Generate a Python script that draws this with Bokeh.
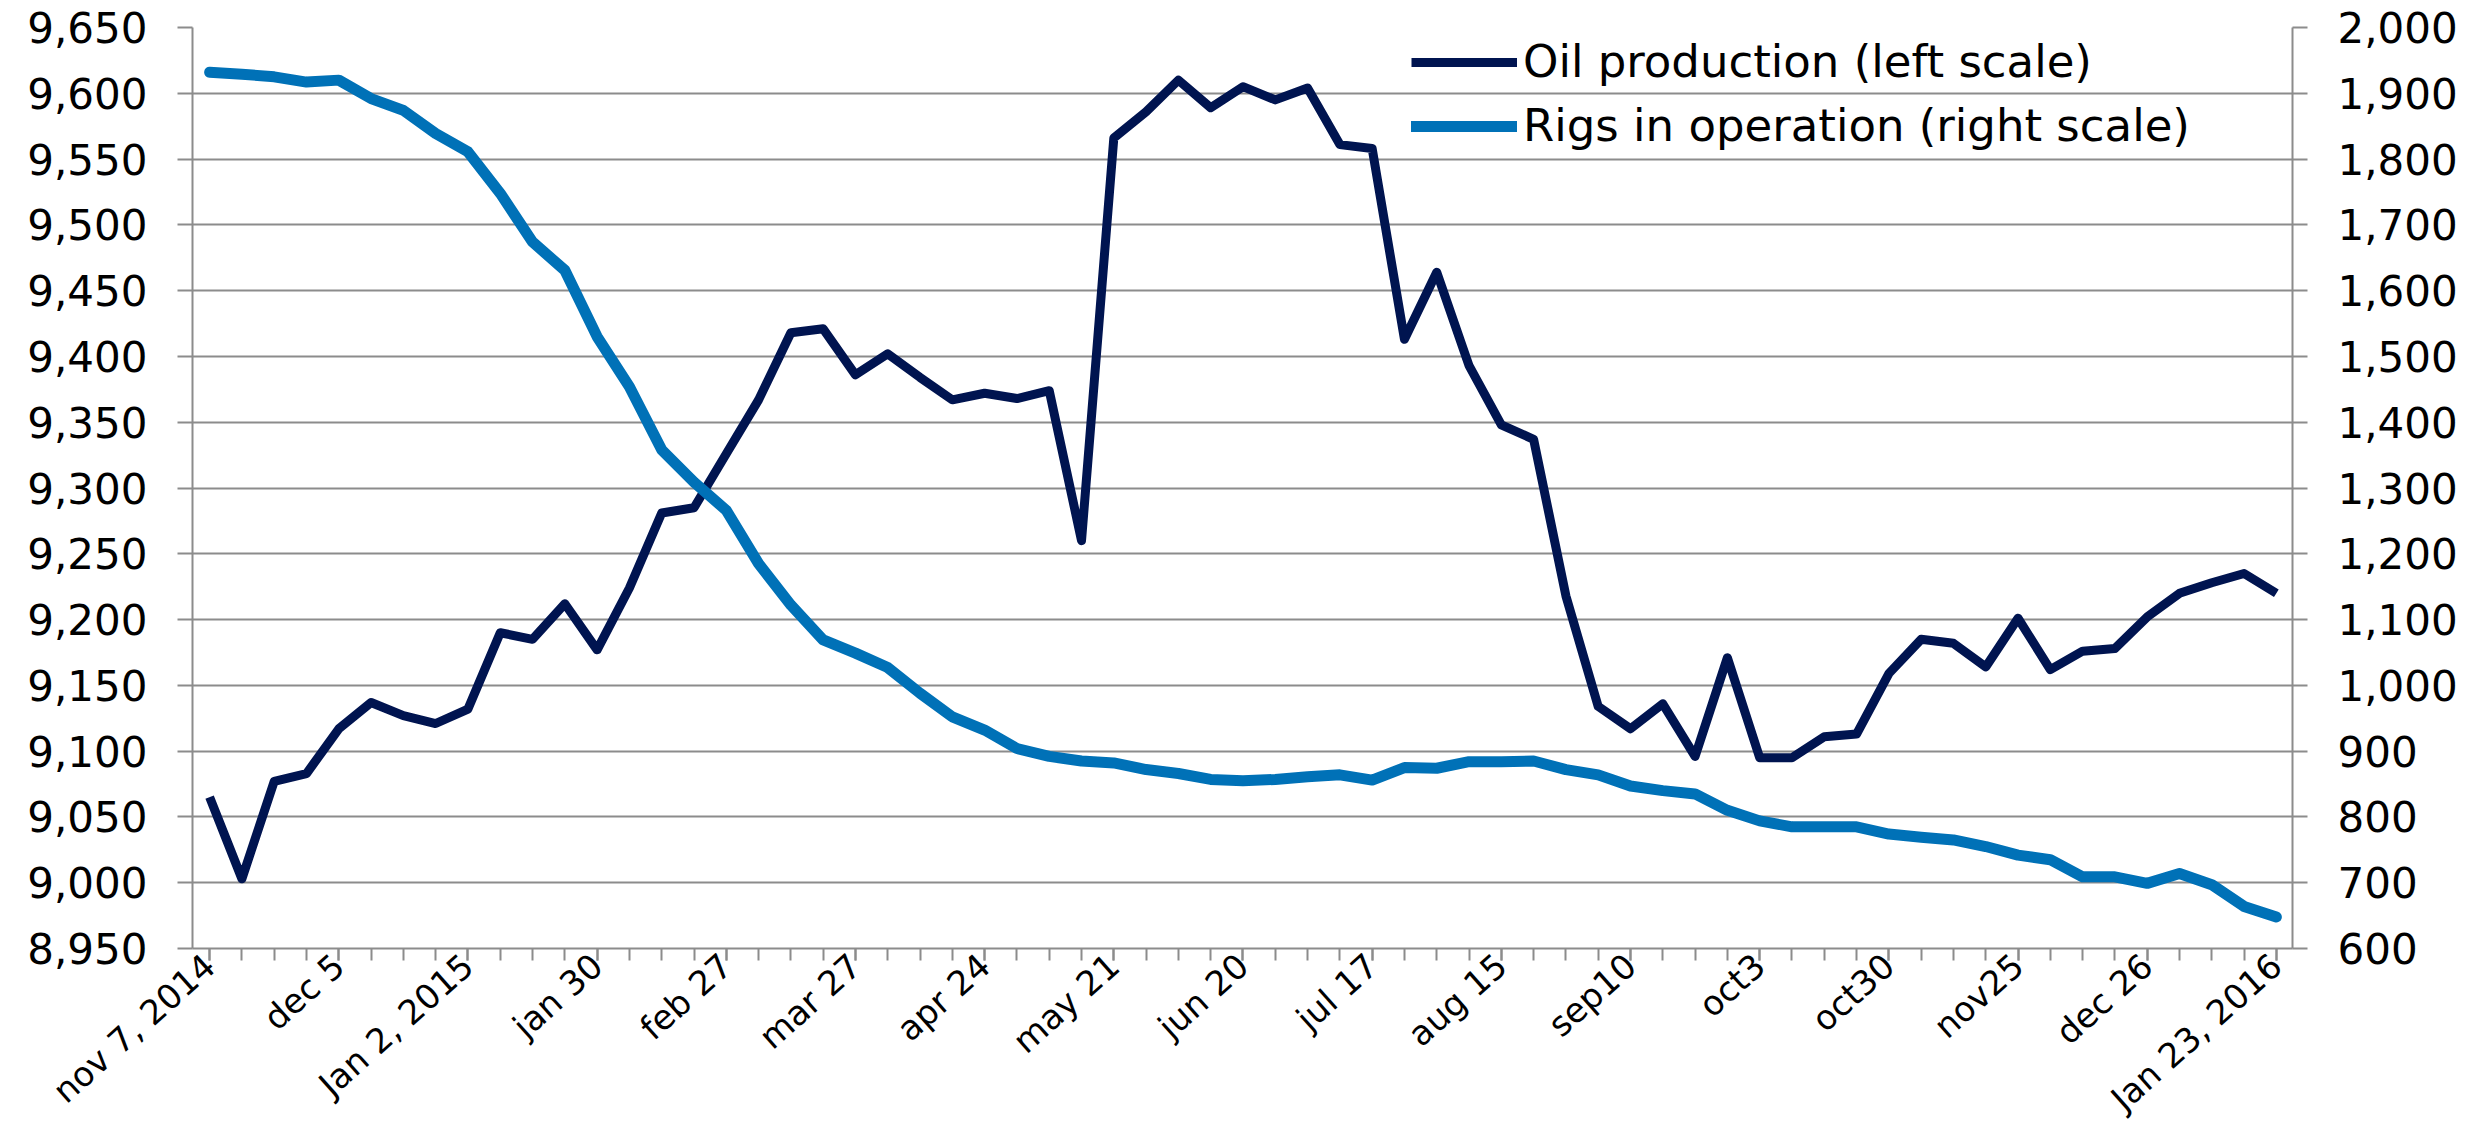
from bokeh.plotting import figure
from bokeh.models import (Range1d, LinearAxis, FixedTicker, NumeralTickFormatter,
                          Legend, LegendItem)
from bokeh.embed import file_html
from bokeh.resources import INLINE

# ---------------- data (weekly, nov 7 2014 .. Jan 23 2016) ----------------
weeks = list(range(65))
tick_labels = ["nov 7, 2014", "dec 5", "Jan 2, 2015", "jan 30", "feb 27", "mar 27",
               "apr 24", "may 21", "jun 20", "jul 17", "aug 15", "sep10", "oct3",
               "oct30", "nov25", "dec 26", "Jan 23, 2016"]
tick_positions = weeks[::4]

oil_production = [9065, 9003, 9077, 9083, 9117, 9137, 9127, 9121, 9132, 9190,
                  9185, 9212, 9177, 9224, 9281, 9285, 9326, 9367, 9418, 9421,
                  9386, 9402, 9384, 9367, 9372, 9368, 9374, 9260, 9566, 9586,
                  9610, 9589, 9605, 9595, 9604, 9561, 9558, 9413, 9464, 9393,
                  9348, 9337, 9218, 9134, 9117, 9136, 9096, 9171, 9095, 9095,
                  9111, 9113, 9159, 9185, 9182, 9164, 9201, 9162, 9176, 9178,
                  9202, 9220, 9228, 9235, 9220]

rigs_in_operation = [1932, 1929, 1925, 1917, 1920, 1892, 1874, 1839, 1811, 1748,
                     1674, 1631, 1530, 1454, 1358, 1309, 1266, 1185, 1122, 1069,
                     1049, 1027, 988, 952, 932, 904, 892, 885, 882, 872,
                     866, 857, 855, 857, 861, 864, 856, 875, 874, 884,
                     884, 885, 872, 864, 847, 840, 835, 810, 794, 785,
                     785, 785, 774, 769, 765, 755, 742, 735, 709, 709,
                     699, 714, 697, 664, 648]

left_ticks = list(range(8950, 9651, 50))
right_ticks = list(range(600, 2001, 100))

# ---------------- styles ----------------
FONT = "DejaVu Sans"
GRID = "#8c8c8c"
OIL_COLOR = "#001450"
RIGS_COLOR = "#0071b7"

p = figure(width=2483, height=1139, output_backend="svg", toolbar_location=None,
           x_range=Range1d(-0.53, 64.5), y_range=Range1d(left_ticks[0], left_ticks[-1]),
           min_border_left=192, min_border_right=191, min_border_top=27,
           min_border_bottom=191)
p.extra_y_ranges = {"rigs": Range1d(right_ticks[0], right_ticks[-1])}
p.outline_line_color = None
p.background_fill_color = "white"
p.border_fill_color = "white"

# x axis
xa = p.xaxis[0]
xa.ticker = FixedTicker(ticks=tick_positions, minor_ticks=weeks)
xa.major_label_overrides = {pos: lab for pos, lab in zip(tick_positions, tick_labels)}
xa.major_label_orientation = 0.73
xa.major_label_text_font = FONT
xa.major_label_text_font_size = "34px"
xa.major_label_text_color = "black"
xa.major_label_standoff = 0
xa.axis_line_color = GRID
xa.axis_line_width = 2
xa.major_tick_line_color = GRID
xa.major_tick_line_width = 2
xa.minor_tick_line_color = GRID
xa.minor_tick_line_width = 2
xa.major_tick_in = 0
xa.major_tick_out = 12
xa.minor_tick_in = 0
xa.minor_tick_out = 12

# left y axis
ya = p.yaxis[0]
ya.ticker = FixedTicker(ticks=left_ticks)
ya.formatter = NumeralTickFormatter(format="0,0")
ya.major_label_text_font = FONT
ya.major_label_text_font_size = "42px"
ya.major_label_text_color = "black"
ya.major_label_standoff = 30
ya.axis_line_color = GRID
ya.axis_line_width = 2
ya.major_tick_line_color = GRID
ya.major_tick_line_width = 2
ya.major_tick_in = 0
ya.major_tick_out = 15
ya.minor_tick_line_color = None

# right y axis
ra = LinearAxis(y_range_name="rigs", ticker=FixedTicker(ticks=right_ticks),
                formatter=NumeralTickFormatter(format="0,0"))
ra.major_label_text_font = FONT
ra.major_label_text_font_size = "42px"
ra.major_label_text_color = "black"
ra.major_label_standoff = 30
ra.axis_line_color = GRID
ra.axis_line_width = 2
ra.major_tick_line_color = GRID
ra.major_tick_line_width = 2
ra.major_tick_in = 0
ra.major_tick_out = 15
ra.minor_tick_line_color = None
p.add_layout(ra, "right")

p.xgrid.grid_line_color = None
p.ygrid.grid_line_color = GRID
p.ygrid.grid_line_width = 2

# ---------------- lines ----------------
r_oil = p.line(weeks, oil_production, line_color=OIL_COLOR, line_width=9,
               line_join="round")
r_rigs = p.line(weeks, rigs_in_operation, line_color=RIGS_COLOR, line_width=11,
                line_join="round", line_cap="round", y_range_name="rigs")

legend = Legend(items=[LegendItem(label="Oil production (left scale)", renderers=[r_oil]),
                       LegendItem(label="Rigs in operation (right scale)", renderers=[r_rigs])],
                location=(1219, 796))
legend.border_line_color = None
legend.background_fill_alpha = 0
legend.padding = 0
legend.margin = 0
legend.spacing = 11
legend.glyph_width = 106
legend.glyph_height = 52
legend.label_height = 52
legend.label_standoff = 6
legend.label_text_font = FONT
legend.label_text_font_size = "45px"
legend.label_text_color = "black"
p.add_layout(legend)

with open("out.html", "w") as f:
    f.write(file_html(p, INLINE))
